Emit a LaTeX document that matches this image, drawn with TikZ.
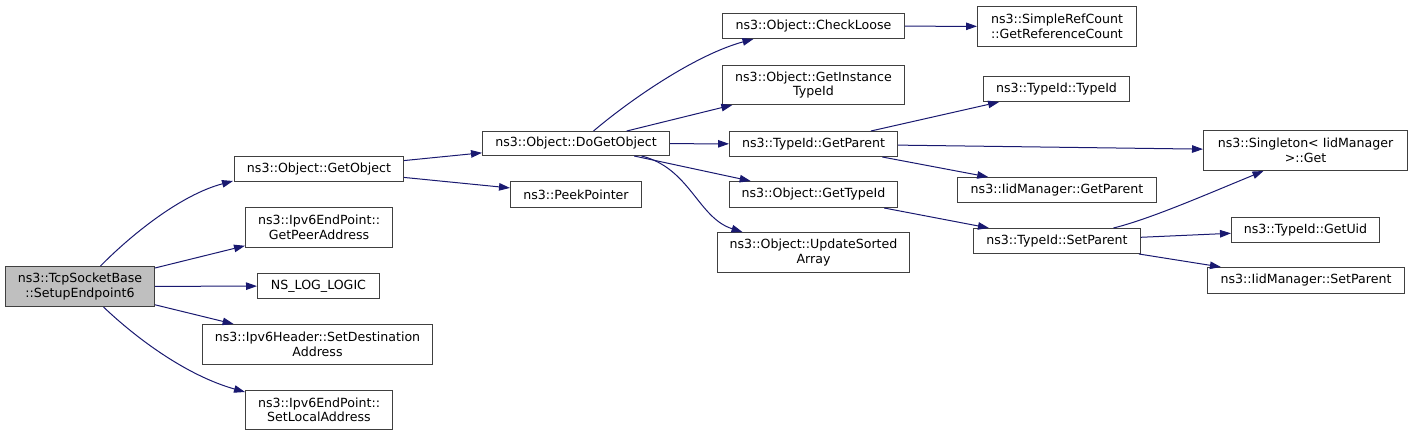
\documentclass[tikz,border=0pt]{standalone}
\usepackage{fontspec}
\setmainfont{DejaVu Sans}
\usetikzlibrary{arrows.meta}
\definecolor{edgecol}{HTML}{191970}
\definecolor{boxborder}{HTML}{404040}
\definecolor{rootfill}{HTML}{BFBFBF}
\begin{document}
\begin{tikzpicture}[x=1pt,y=-1pt,
  fn/.style={draw=boxborder, line width=1pt, anchor=north west, inner sep=0pt, align=center,
             font=\fontsize{12.6}{14.5}\selectfont},
  call/.style={draw=edgecol, line width=1pt, -{Triangle[length=11pt,width=7.5pt]}, fill=none},
  ]
\useasboundingbox (0,0) rectangle (1412,436);
\node[fn, fill=rootfill, minimum width=149pt, minimum height=40pt] (root) at (5,266) {ns3::TcpSocketBase\\::SetupEndpoint6};
\node[fn, minimum width=169pt, minimum height=25pt] (go) at (234,156) {ns3::Object::GetObject};
\node[fn, minimum width=147pt, minimum height=40pt] (gpa) at (245,207) {ns3::Ipv6EndPoint::\\GetPeerAddress};
\node[fn, minimum width=122pt, minimum height=25pt] (nslog) at (257,273) {NS\_LOG\_LOGIC};
\node[fn, minimum width=230pt, minimum height=40pt] (sda) at (202,324) {ns3::Ipv6Header::SetDestination\\Address};
\node[fn, minimum width=147pt, minimum height=39pt] (sla) at (245,390) {ns3::Ipv6EndPoint::\\SetLocalAddress};
\node[fn, minimum width=187pt, minimum height=24pt] (dgo) at (482,131) {ns3::Object::DoGetObject};
\node[fn, minimum width=131pt, minimum height=26pt] (pp) at (510,181) {ns3::PeekPointer};
\node[fn, minimum width=182pt, minimum height=25pt] (cl) at (722,13) {ns3::Object::CheckLoose};
\node[fn, minimum width=182pt, minimum height=39pt] (git) at (722,65) {ns3::Object::GetInstance\\TypeId};
\node[fn, minimum width=168pt, minimum height=25pt] (tgp) at (729,131) {ns3::TypeId::GetParent};
\node[fn, minimum width=168pt, minimum height=26pt] (gti) at (729,181) {ns3::Object::GetTypeId};
\node[fn, minimum width=192pt, minimum height=40pt] (usa) at (717,232) {ns3::Object::UpdateSorted\\Array};
\node[fn, minimum width=159pt, minimum height=40pt] (src) at (977,6) {ns3::SimpleRefCount\\::GetReferenceCount};
\node[fn, minimum width=146pt, minimum height=25pt] (tti) at (983,76) {ns3::TypeId::TypeId};
\node[fn, minimum width=204pt, minimum height=40pt] (sing) at (1203,130) {ns3::Singleton< IidManager\\>::Get};
\node[fn, minimum width=199pt, minimum height=25pt] (igp) at (957,177) {ns3::IidManager::GetParent};
\node[fn, minimum width=167pt, minimum height=25pt] (tsp) at (973,228) {ns3::TypeId::SetParent};
\node[fn, minimum width=148pt, minimum height=25pt] (uid) at (1231,217) {ns3::TypeId::GetUid};
\node[fn, minimum width=197pt, minimum height=26pt] (isp) at (1207,267) {ns3::IidManager::SetParent};

\draw[call] ([xshift=20.5pt]root.north) .. controls (130,236) and (180,195) .. ([shift={(-1pt,1pt)}]go.south west);
\draw[call] (root) -- (gpa);
\draw[call] (root) -- (nslog);
\draw[call] (root) -- (sda);
\draw[call] ([xshift=23.5pt]root.south) .. controls (135,337) and (185,375) .. ([yshift=-2pt]sla.north west);
\draw[call] (go) -- (dgo);
\draw[call] (go) -- (pp);
\draw[call] ([xshift=17.5pt]dgo.north) .. controls (630,100) and (695,55) .. ([xshift=-60pt]cl.south);
\draw[call] (dgo) -- (git);
\draw[call] (dgo) -- (tgp);
\draw[call] (dgo) -- (gti);
\draw[call] ([xshift=65.5pt]dgo.south) .. controls (690,168) and (698,218) .. ([xshift=-71pt]usa.north);
\draw[call] (cl) -- (src);
\draw[call] (tgp) -- (tti);
\draw[call] (tgp) -- (sing);
\draw[call] (tgp) -- (igp);
\draw[call] (gti) -- (tsp);
\draw[call] ([xshift=56.5pt]tsp.north) .. controls (1150,219) and (1205,195) .. ([xshift=-42pt]sing.south);
\draw[call] (tsp) -- (uid);
\draw[call] (tsp) -- (isp);
\end{tikzpicture}
\end{document}
